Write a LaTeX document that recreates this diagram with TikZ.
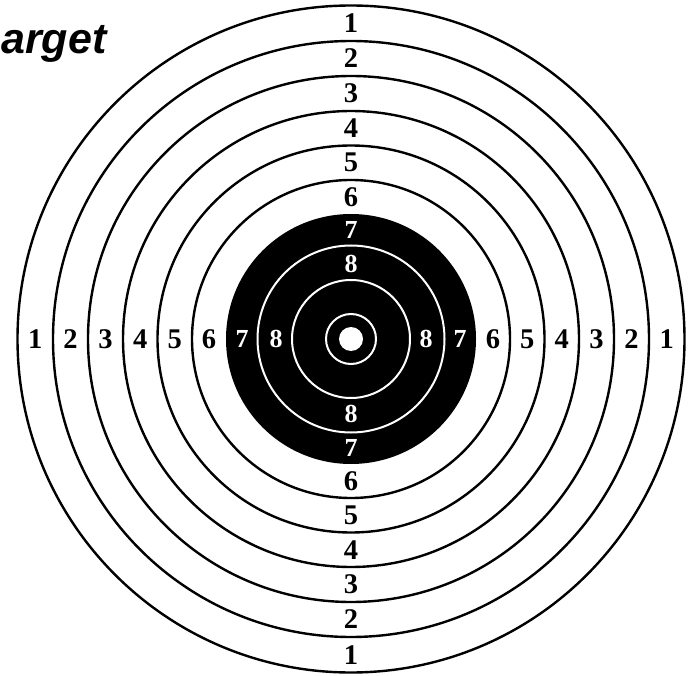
\documentclass[tikz,border=0pt]{standalone}
\usepackage{fontspec}
\setmainfont{Liberation Serif}
\newfontfamily\titlefont{Liberation Sans}
\usetikzlibrary{calc}
\begin{document}
\begin{tikzpicture}[x=1pt,y=-1pt,
  ring/.style={draw=black,line width=2.4pt},
  wring/.style={draw=white,line width=2pt},
  num/.style={inner sep=0pt,font=\fontsize{28.5}{28.5}\selectfont\bfseries},
  wnum/.style={num,text=white,font=\fontsize{26}{26}\selectfont\bfseries},
  title/.style={inner sep=0pt,anchor=base west,font=\titlefont\fontsize{43}{43}\selectfont\bfseries\itshape}]
\useasboundingbox (0,0) rectangle (693,676);
\coordinate (c) at (351,339);
\foreach \r in {333.5,298,263,228,193.5,159}{
  \draw[ring] (c) circle[radius=\r];
}
\fill[black] (c) circle[radius=125];
\foreach \r in {93.5,59,25}{
  \draw[wring] (c) circle[radius=\r];
}
\fill[white] (c) circle[radius=12];
\foreach \k/\m in {1/315.75,2/280.5,3/245.5,4/210.75,5/176.25,6/142}{
  \node[num] (top\k) at ($(c)+(0,-\m)$) {\k};
  \node[num] (bot\k) at ($(c)+(0,\m)$) {\k};
  \node[num] (lft\k) at ($(c)+(-\m,0)$) {\k};
  \node[num] (rgt\k) at ($(c)+(\m,0)$) {\k};
}
\foreach \k/\m in {7/109,8/75}{
  \node[wnum] (top\k) at ($(c)+(0,-\m)$) {\k};
  \node[wnum] (bot\k) at ($(c)+(0,\m)$) {\k};
  \node[wnum] (lft\k) at ($(c)+(-\m,0)$) {\k};
  \node[wnum] (rgt\k) at ($(c)+(\m,0)$) {\k};
}
\node[title] (ttl) at (1,54) {arget};
\end{tikzpicture}
\end{document}
